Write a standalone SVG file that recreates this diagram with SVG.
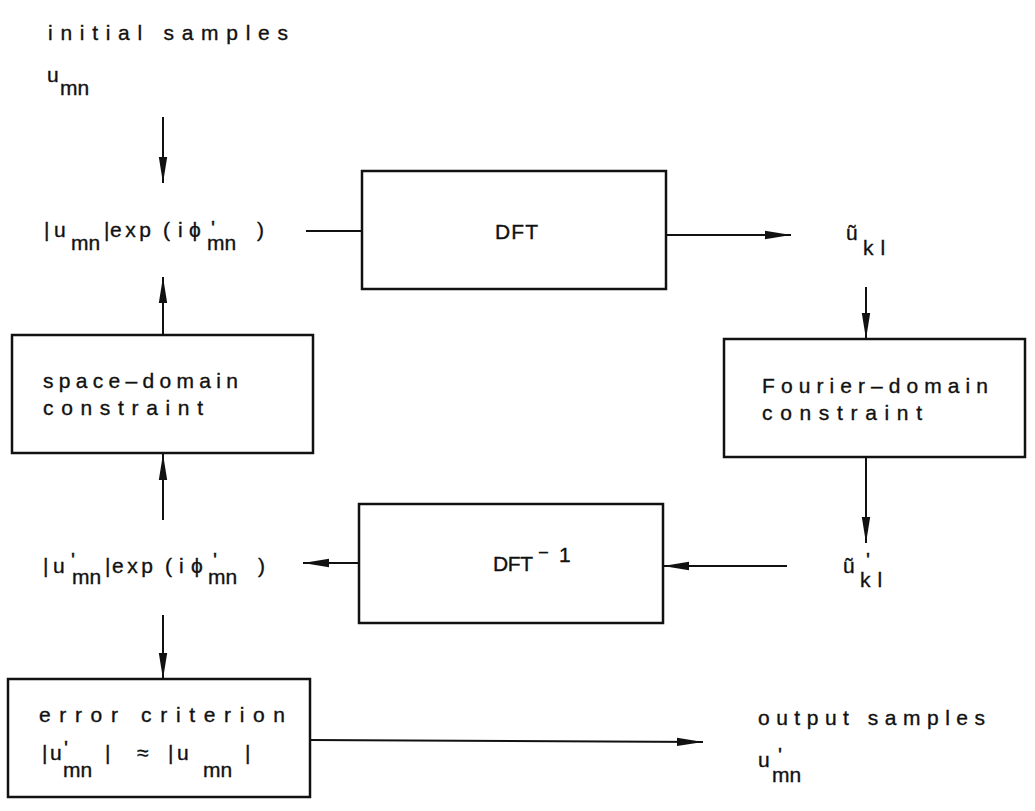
<svg xmlns="http://www.w3.org/2000/svg" width="1035" height="811" viewBox="0 0 1035 811">
<style>
text{font-family:"Liberation Sans","DejaVu Sans",sans-serif;font-size:21px;fill:#111;stroke:#111;stroke-width:0.35}
.box{fill:#fff;stroke:#111;stroke-width:2.5}
.ln{stroke:#111;stroke-width:2;fill:none}
.ar{marker-end:url(#ah)}
</style>
<defs>
<marker id="ah" markerWidth="26" markerHeight="10" refX="26" refY="5" orient="auto" markerUnits="userSpaceOnUse">
<path d="M0,0.8 L26,5 L0,9.2 Z" fill="#111"/>
</marker>
</defs>
<rect width="1035" height="811" fill="#fff"/>

<g id="connectors">
<line class="ln ar" x1="163" y1="117" x2="163" y2="183"/>
<line class="ln" x1="306" y1="231" x2="362" y2="231"/>
<line class="ln ar" x1="666" y1="235" x2="791" y2="235"/>
<line class="ln ar" x1="866" y1="287" x2="866" y2="339"/>
<line class="ln ar" x1="866" y1="457" x2="866" y2="543"/>
<line class="ln ar" x1="787" y1="566" x2="663" y2="566"/>
<line class="ln ar" x1="359" y1="563" x2="303" y2="563"/>
<line class="ln ar" x1="163" y1="520" x2="163" y2="454"/>
<line class="ln ar" x1="163" y1="335" x2="163" y2="277"/>
<line class="ln ar" x1="163" y1="615" x2="163" y2="679"/>
<line class="ln ar" x1="310" y1="740" x2="703" y2="742"/>
</g>

<g id="initial-samples">
<text x="48" y="40" textLength="240">initial samples</text>
<text><tspan x="47" y="82">u</tspan><tspan x="60" y="95">mn</tspan></text>
</g>

<g id="u-exp">
<text><tspan x="44" y="237">|</tspan><tspan x="54" y="237">u</tspan><tspan x="71" y="250">mn</tspan><tspan x="104" y="237">|</tspan><tspan x="110" y="237" letter-spacing="3.5">exp</tspan><tspan x="163" y="237">(</tspan><tspan x="178" y="237">i</tspan><tspan x="189" y="237">ϕ</tspan><tspan x="211" y="235">'</tspan><tspan x="207" y="250">mn</tspan><tspan x="257" y="237">)</tspan></text>
</g>

<g id="dft">
<rect class="box" x="362" y="171" width="304" height="118"/>
<text x="495" y="239" textLength="43">DFT</text>
</g>

<g id="u-kl">
<text><tspan x="846" y="240">ũ</tspan><tspan x="863" y="255" letter-spacing="7">kl</tspan></text>
</g>

<g id="fourier-constraint">
<rect class="box" x="724" y="339" width="301" height="118"/>
<text x="762" y="393" textLength="226">Fourier–domain</text>
<text x="762" y="420" textLength="160">constraint</text>
</g>

<g id="u-kl-prime">
<text><tspan x="843" y="573">ũ</tspan><tspan x="866" y="567">'</tspan><tspan x="860" y="587" letter-spacing="7">kl</tspan></text>
</g>

<g id="dft-inverse">
<rect class="box" x="359" y="504" width="304" height="119"/>
<text><tspan x="493" y="571" textLength="40">DFT</tspan><tspan x="539" y="557" font-size="16">–</tspan><tspan x="559" y="562">1</tspan></text>
</g>

<g id="u-prime-exp">
<text><tspan x="43" y="573">|</tspan><tspan x="53" y="573">u</tspan><tspan x="71" y="567">'</tspan><tspan x="72" y="584">mn</tspan><tspan x="105" y="573">|</tspan><tspan x="112" y="573" letter-spacing="3.5">exp</tspan><tspan x="165" y="573">(</tspan><tspan x="179" y="573">i</tspan><tspan x="191" y="573">ϕ</tspan><tspan x="213" y="567">'</tspan><tspan x="208" y="584">mn</tspan><tspan x="258" y="573">)</tspan></text>
</g>

<g id="space-constraint">
<rect class="box" x="12" y="335" width="301" height="118"/>
<text x="43" y="388" textLength="195">space–domain</text>
<text x="43" y="415" textLength="160">constraint</text>
</g>

<g id="error-criterion">
<rect class="box" x="8" y="679" width="302" height="118"/>
<text x="39" y="722" textLength="246">error criterion</text>
<text><tspan x="42" y="760">|</tspan><tspan x="50" y="760">u</tspan><tspan x="64" y="755">'</tspan><tspan x="63" y="777">mn</tspan><tspan x="105" y="760">|</tspan><tspan x="137" y="760">≈</tspan><tspan x="168" y="760">|</tspan><tspan x="177" y="760">u</tspan><tspan x="203" y="777">mn</tspan><tspan x="245" y="760">|</tspan></text>
</g>

<g id="output-samples">
<text x="758" y="725" textLength="227">output samples</text>
<text><tspan x="758" y="767">u</tspan><tspan x="778" y="762">'</tspan><tspan x="772" y="782">mn</tspan></text>
</g>
</svg>
